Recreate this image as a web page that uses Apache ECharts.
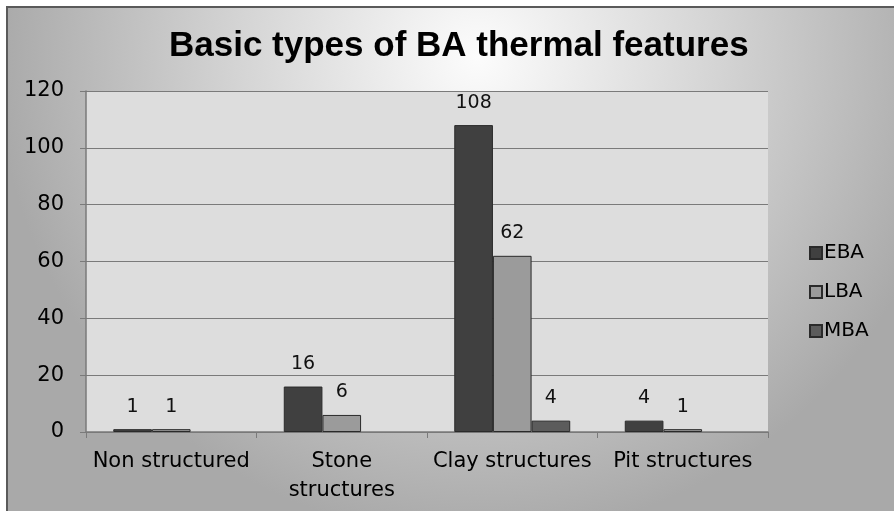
<!DOCTYPE html>
<html>
<head>
<meta charset="utf-8">
<script src="https://cdn.jsdelivr.net/npm/echarts@6/dist/echarts.min.js"></script>
<style>
  html, body { margin: 0; padding: 0; background: #fff; }
  #chart { width: 894px; height: 511px; }
</style>
</head>
<body>
<div id="chart"></div>
<script>
  // categories and values
  var categories = ['Non structured', 'Stone\nstructures', 'Clay structures', 'Pit structures'];
  var ebaValues = [1, 16, 108, 4];
  var lbaValues = [1, 6, 62, 1];
  var mbaValues = [null, null, 4, null];
  var yTicks = { min: 0, max: 120, interval: 20 };

  var chart = echarts.init(document.getElementById('chart'));

  var labelStyle = {
    show: true,
    position: 'top',
    distance: 13,
    color: '#111',
    fontFamily: 'DejaVu Sans',
    fontSize: 19
  };

  function barSeries(name, data, color) {
    return {
      name: name,
      type: 'bar',
      data: data,
      barGap: '0%',
      barCategoryGap: '32%',
      itemStyle: { color: color, borderColor: '#2a2a2a', borderWidth: 1 },
      label: labelStyle
    };
  }

  var option = {
    backgroundColor: '#ffffff',
    animation: false,
    graphic: [{
      type: 'rect',
      z: -100,
      shape: { x: 7, y: 7, width: 888, height: 505 },
      style: {
        fill: new echarts.graphic.RadialGradient(0.53, 0.1, 0.95, [
          { offset: 0, color: '#fcfcfc' },
          { offset: 0.5, color: '#d4d4d4' },
          { offset: 1, color: '#a9a9a9' }
        ]),
        stroke: '#5a5a5a',
        lineWidth: 2
      }
    }],
    title: {
      text: 'Basic types of BA thermal features',
      left: 164,
      top: 24,
      textStyle: {
        fontFamily: 'Liberation Sans',
        fontWeight: 'bold',
        fontSize: 35,
        color: '#000'
      }
    },
    legend: {
      orient: 'vertical',
      left: 804,
      top: 238,
      itemWidth: 12,
      itemHeight: 12,
      itemGap: 19,
      icon: 'rect',
      textStyle: { fontFamily: 'DejaVu Sans', fontSize: 20, color: '#000', padding: [0, 0, 0, -3] },
      data: ['EBA', 'LBA', 'MBA']
    },
    grid: {
      left: 86,
      right: 126,
      top: 91,
      bottom: 79,
      show: true,
      backgroundColor: '#dddddd',
      borderWidth: 0
    },
    xAxis: {
      type: 'category',
      data: categories,
      axisLine: { lineStyle: { color: '#7a7a7a', width: 1.5 } },
      axisTick: { show: true, length: 6, lineStyle: { color: '#7a7a7a' } },
      axisLabel: {
        interval: 0,
        margin: 15,
        color: '#000',
        fontFamily: 'DejaVu Sans',
        fontSize: 21,
        lineHeight: 29
      }
    },
    yAxis: {
      type: 'value',
      min: yTicks.min,
      max: yTicks.max,
      interval: yTicks.interval,
      axisLine: { show: true, lineStyle: { color: '#7a7a7a', width: 1.5 } },
      axisTick: { show: true, length: 6, lineStyle: { color: '#7a7a7a' } },
      splitLine: { lineStyle: { color: '#7a7a7a', width: 1 } },
      axisLabel: {
        margin: 22,
        color: '#000',
        fontFamily: 'DejaVu Sans',
        fontSize: 21
      }
    },
    series: [
      barSeries('EBA', ebaValues, '#404040'),
      barSeries('LBA', lbaValues, '#9b9b9b'),
      barSeries('MBA', mbaValues, '#5c5c5c')
    ]
  };

  chart.setOption(option);
</script>
</body>
</html>
